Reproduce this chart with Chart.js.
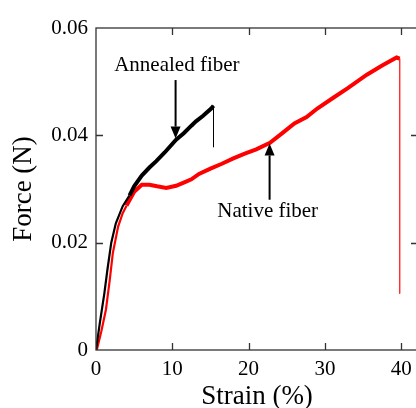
<!DOCTYPE html>
<html>
<head>
<meta charset="utf-8">
<script src="https://cdn.jsdelivr.net/npm/chart.js@4.4.1/dist/chart.umd.min.js"></script>
<style>
html,body{margin:0;padding:0;background:#fff;overflow:hidden;width:416px;height:408px;}
canvas{display:block;}
</style>
</head>
<body>
<canvas id="c" width="424" height="408" style="width:424px;height:408px"></canvas>
<script>
// ---- data ----
const annealedStrain = [0, 0.5, 1.1, 1.5, 2.0, 2.6, 3.5, 4.4, 5.0, 6.0, 7.0, 7.9, 9.0, 10.5, 11.5, 12.5, 13.1, 14.0, 15.1, 15.4];
const annealedForce  = [0, 0.005, 0.0106, 0.015, 0.0200, 0.0236, 0.0268, 0.0288, 0.0305, 0.0325, 0.0340, 0.0352, 0.0368, 0.0392, 0.0404, 0.0418, 0.0426, 0.0436, 0.0450, 0.0455];
const annealedBreakStrain = [15.4, 15.4];
const annealedBreakForce  = [0.0455, 0.0378];

const nativeStrain = [0.1, 0.7, 1.3, 1.8, 2.2, 2.9, 3.5, 4.0, 5.0, 6.0, 7.0, 8.0, 9.2, 10.5, 11.5, 12.5, 13.5, 15.0, 16.5, 18.0, 19.5, 21.0, 22.8, 24.5, 26.0, 27.6, 29.0, 31.1, 33.0, 35.5, 37.5, 39.4, 39.8];
const nativeForce  = [0, 0.0035, 0.0075, 0.013, 0.018, 0.023, 0.0255, 0.0269, 0.0295, 0.0308, 0.0308, 0.0305, 0.0302, 0.0306, 0.0312, 0.0318, 0.0328, 0.0338, 0.0347, 0.0357, 0.0366, 0.0374, 0.0386, 0.0405, 0.0422, 0.0434, 0.0450, 0.0470, 0.0488, 0.0513, 0.0530, 0.0545, 0.0543];
const nativeBreakStrain = [39.8, 39.8];
const nativeBreakForce  = [0.0543, 0.0105];

const xTicks = [0, 10, 20, 30, 40];
const yTicks = [0, 0.02, 0.04, 0.06];
const xTitle = 'Strain (%)';
const yTitle = 'Force (N)';
const annotations = [
  {text: 'Annealed fiber', x: 10.6, y: 0.0530, arrowX: 10.43, fromY: 0.0503, toY: 0.0394},
  {text: 'Native fiber',   x: 22.5, y: 0.0259, arrowX: 22.75, fromY: 0.0280, toY: 0.0385}
];

const pts = (xs, ys) => xs.map((x, i) => ({x: x, y: ys[i]}));
const FONT = "'Liberation Serif', 'Times New Roman', serif";

const framePlugin = {
  id: 'frame',
  afterDatasetsDraw(chart) {
    const ctx = chart.ctx, a = chart.chartArea;
    const xs = chart.scales.x, ys = chart.scales.y;
    ctx.save();
    ctx.strokeStyle = '#333';
    ctx.lineWidth = 1.3;
    ctx.strokeRect(a.left, a.top, a.right - a.left, a.bottom - a.top);
    const tl = 7;
    ctx.beginPath();
    xTicks.forEach(v => {
      if (v === 0) return;
      const px = Math.round(xs.getPixelForValue(v)) + 0.5;
      ctx.moveTo(px, a.bottom); ctx.lineTo(px, a.bottom - tl);
      ctx.moveTo(px, a.top); ctx.lineTo(px, a.top + tl);
    });
    yTicks.forEach(v => {
      if (v === 0 || v === 0.06) return;
      const py = Math.round(ys.getPixelForValue(v)) + 0.5;
      ctx.moveTo(a.left, py); ctx.lineTo(a.left + tl, py);
      ctx.moveTo(a.right, py); ctx.lineTo(a.right - tl, py);
    });
    ctx.stroke();
    // annotations
    ctx.fillStyle = '#000';
    ctx.strokeStyle = '#000';
    ctx.font = '21px ' + FONT;
    ctx.textAlign = 'center';
    ctx.textBaseline = 'middle';
    annotations.forEach(an => {
      ctx.fillText(an.text, xs.getPixelForValue(an.x), ys.getPixelForValue(an.y));
      const ax = xs.getPixelForValue(an.arrowX);
      const y0 = ys.getPixelForValue(an.fromY), y1 = ys.getPixelForValue(an.toY);
      const dir = y1 > y0 ? 1 : -1;
      const headLen = 12, headW = 5;
      ctx.lineWidth = 2;
      ctx.beginPath();
      ctx.moveTo(ax, y0); ctx.lineTo(ax, y1 - dir * headLen);
      ctx.stroke();
      ctx.beginPath();
      ctx.moveTo(ax, y1);
      ctx.lineTo(ax - headW, y1 - dir * headLen);
      ctx.lineTo(ax + headW, y1 - dir * headLen);
      ctx.closePath();
      ctx.fill();
    });
    ctx.restore();
  }
};

const thin = (ctx) => (ctx.p0.parsed.x < 4 ? 2.2 : 4);

new Chart(document.getElementById('c'), {
  type: 'line',
  data: {
    datasets: [
      {label: 'Annealed fiber', data: pts(annealedStrain, annealedForce), borderColor: '#000', borderWidth: 3.5,
       segment: {borderWidth: thin}, pointRadius: 0, tension: 0},
      {label: 'Annealed break', data: pts(annealedBreakStrain, annealedBreakForce), borderColor: '#000', borderWidth: 1, pointRadius: 0},
      {label: 'Native fiber', data: pts(nativeStrain, nativeForce), borderColor: '#ff0000', borderWidth: 4,
       segment: {borderWidth: thin}, pointRadius: 0, tension: 0},
      {label: 'Native break', data: pts(nativeBreakStrain, nativeBreakForce), borderColor: '#ff3030', borderWidth: 1, pointRadius: 0}
    ]
  },
  options: {
    responsive: false,
    animation: false,
    layout: {padding: {left: 0, right: 6, top: 28, bottom: 0}},
    plugins: {legend: {display: false}, tooltip: {enabled: false}},
    scales: {
      x: {
        type: 'linear', min: 0, max: 42.2,
        afterFit(s) { s.height = 58; },
        afterBuildTicks(s) { s.ticks = xTicks.map(v => ({value: v})); },
        grid: {display: false, drawTicks: false},
        border: {display: false},
        ticks: {color: '#000', font: {family: FONT, size: 21}, padding: 7, maxRotation: 0,
                callback: v => String(v)},
        title: {display: true, text: xTitle, color: '#000', font: {family: FONT, size: 27, lineHeight: 1}, padding: {top: 0, bottom: -2}}
      },
      y: {
        type: 'linear', min: 0, max: 0.06,
        afterFit(s) { s.width = 96; },
        afterBuildTicks(s) { s.ticks = yTicks.map(v => ({value: v})); },
        grid: {display: false, drawTicks: false},
        border: {display: false},
        ticks: {color: '#000', font: {family: FONT, size: 21}, padding: 8,
                callback: v => (v === 0 ? '0' : v.toFixed(2))},
        title: {display: true, text: yTitle, color: '#000', font: {family: FONT, size: 27, lineHeight: 1}, padding: {top: 10, bottom: 0}}
      }
    }
  },
  plugins: [framePlugin]
});
</script>
</body>
</html>
